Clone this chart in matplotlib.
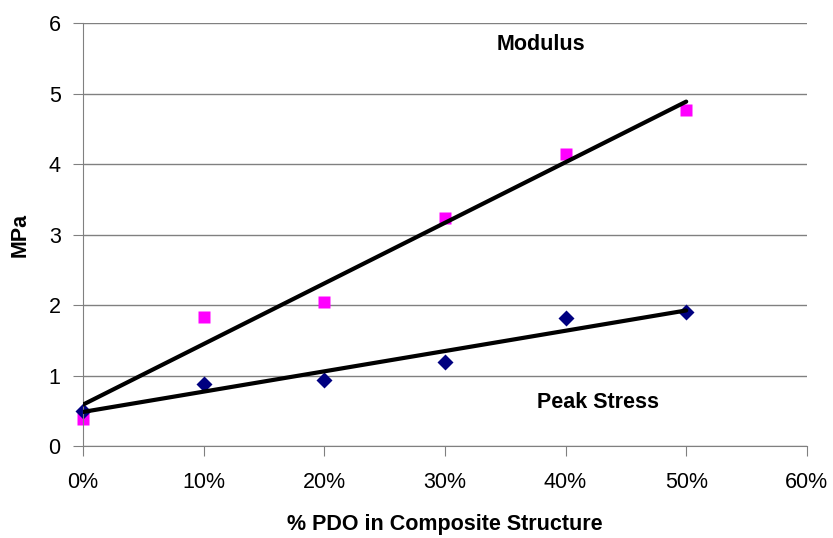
import numpy as np
import matplotlib.pyplot as plt
from matplotlib.ticker import PercentFormatter

plt.rcParams['font.family'] = ['Liberation Sans', 'DejaVu Sans']

pdo = [0.0, 0.1, 0.2, 0.3, 0.4, 0.5]
modulus = [0.38, 1.83, 2.05, 3.24, 4.15, 4.77]
peak_stress = [0.50, 0.88, 0.93, 1.19, 1.82, 1.90]

fig = plt.figure(figsize=(8.33, 5.38), dpi=100)
ax = fig.add_axes([0.0996, 0.171, 0.869, 0.786])

# linear trend lines
xs = np.array([pdo[0], pdo[-1]])
for vals in (modulus, peak_stress):
    m, b = np.polyfit(pdo, vals, 1)
    ax.plot(xs, m * xs + b, color='black', lw=3, zorder=3, solid_capstyle='round')

ax.plot(pdo, modulus, 's', color='#ff00ff', ms=8, zorder=2, mec='none', clip_on=False)
ax.plot(pdo, peak_stress, 'D', color='#000080', ms=8, zorder=2, mec='none', clip_on=False)

ax.set_xlim(0, 0.6)
ax.set_ylim(0, 6)
ax.set_xticks(np.arange(0, 0.61, 0.1))
ax.set_yticks(range(7))
ax.xaxis.set_major_formatter(PercentFormatter(1.0, decimals=0))
ax.yaxis.grid(True, color='#808080', lw=1)
ax.set_axisbelow(True)
for s in ('top', 'right'):
    ax.spines[s].set_visible(False)
for s in ('left', 'bottom'):
    ax.spines[s].set_color('#808080')
ax.tick_params(direction='out', length=7, color='#808080', labelsize=15.5)
ax.tick_params(axis='x', pad=12)
ax.tick_params(axis='y', pad=9)

ax.set_ylabel('MPa', fontsize=15.5, fontweight='bold')
ax.yaxis.set_label_coords(-0.072, 0.5)
ax.set_xlabel('% PDO in Composite Structure', fontsize=15.5, fontweight='bold')
ax.xaxis.set_label_coords(0.5, -0.16)

ax.text(0.380, 5.69, 'Modulus', fontsize=15.5, fontweight='bold', ha='center', va='center')
ax.text(0.427, 0.62, 'Peak Stress', fontsize=15.5, fontweight='bold', ha='center', va='center')

fig.savefig('out.png', dpi=100)
